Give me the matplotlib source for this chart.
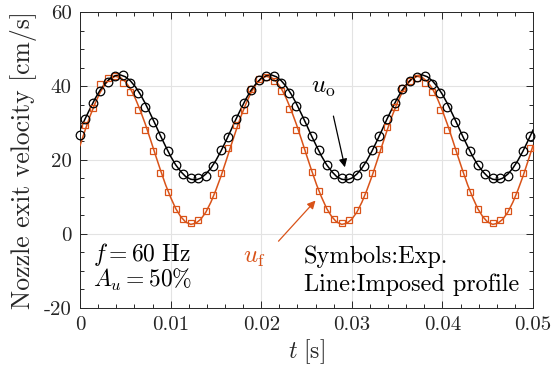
import numpy as np
import matplotlib
matplotlib.use("Agg")
import matplotlib.pyplot as plt
from matplotlib.ticker import MultipleLocator, FuncFormatter

matplotlib.rcParams['font.family'] = 'cmr10'
matplotlib.rcParams['mathtext.fontset'] = 'cm'
matplotlib.rcParams['axes.unicode_minus'] = False
matplotlib.rcParams['axes.formatter.use_mathtext'] = True

orange = '#D95319'
gray = '#262626'

# imposed profiles (lines), sampled every 1/1800 s from 0 to 0.05 s
t_line = np.linspace(0, 0.05, 91)
uo_line = [28.1, 31.1, 33.9, 36.6, 38.9, 40.7, 42.1, 42.8, 43.0, 42.5,
           41.4, 39.8, 37.7, 35.2, 32.4, 29.5, 26.5, 23.7, 21.0, 18.7,
           16.9, 15.5, 14.8, 14.6, 15.1, 16.2, 17.8, 19.9, 22.4, 25.2,
           28.1, 31.1, 33.9, 36.6, 38.9, 40.7, 42.1, 42.8, 43.0, 42.5,
           41.4, 39.8, 37.7, 35.2, 32.4, 29.5, 26.5, 23.7, 21.0, 18.7,
           16.9, 15.5, 14.8, 14.6, 15.1, 16.2, 17.8, 19.9, 22.4, 25.2,
           28.1, 31.1, 33.9, 36.6, 38.9, 40.7, 42.1, 42.8, 43.0, 42.5,
           41.4, 39.8, 37.7, 35.2, 32.4, 29.5, 26.5, 23.7, 21.0, 18.7,
           16.9, 15.5, 14.8, 14.6, 15.1, 16.2, 17.8, 19.9, 22.4, 25.2,
           28.1]
uf_line = [23.9, 28.0, 31.9, 35.3, 38.3, 40.5, 42.0, 42.6, 42.3, 41.2,
           39.3, 36.6, 33.3, 29.6, 25.5, 21.3, 17.2, 13.3, 9.9, 6.9,
           4.7, 3.2, 2.6, 2.9, 4.0, 5.9, 8.6, 11.9, 15.6, 19.7,
           23.9, 28.0, 31.9, 35.3, 38.3, 40.5, 42.0, 42.6, 42.3, 41.2,
           39.3, 36.6, 33.3, 29.6, 25.5, 21.3, 17.2, 13.3, 9.9, 6.9,
           4.7, 3.2, 2.6, 2.9, 4.0, 5.9, 8.6, 11.9, 15.6, 19.7,
           23.9, 28.0, 31.9, 35.3, 38.3, 40.5, 42.0, 42.6, 42.3, 41.2,
           39.3, 36.6, 33.3, 29.6, 25.5, 21.3, 17.2, 13.3, 9.9, 6.9,
           4.7, 3.2, 2.6, 2.9, 4.0, 5.9, 8.6, 11.9, 15.6, 19.7,
           23.9]

# experimental points, sampled at 1200 Hz
t_exp = np.round(0.00055 + np.arange(60) / 1200.0, 5)
t_exp_o = np.concatenate([[0.0], t_exp])
uo_exp = [26.8,
          31.0, 35.3, 38.6, 41.2, 42.6, 42.9, 40.9, 38.0, 34.4, 30.4,
          26.5, 22.5, 18.6, 16.2, 15.0, 15.0, 15.8, 18.4, 22.6, 26.3,
          31.0, 35.3, 38.9, 41.6, 42.7, 42.7, 40.7, 38.0, 34.5, 30.5,
          26.6, 22.6, 18.7, 16.1, 15.0, 15.1, 15.9, 18.5, 22.7, 26.6,
          31.0, 35.5, 39.1, 41.4, 42.5, 42.7, 40.5, 38.0, 34.4, 30.4,
          26.5, 22.5, 18.6, 16.2, 15.0, 15.0, 15.7, 18.4, 22.5, 26.5]
uf_exp = [29.5, 34.0, 40.5, 42.1, 42.7, 40.9, 38.5, 33.5, 28.1, 22.5,
          16.6, 11.4, 6.7, 4.0, 3.1, 3.8, 6.3, 10.5, 16.6, 23.2,
          29.5, 33.5, 39.1, 41.9, 42.3, 41.3, 38.7, 33.7, 28.2, 22.6,
          16.7, 11.5, 6.8, 4.0, 3.0, 3.8, 6.4, 10.6, 16.6, 23.0,
          29.0, 34.4, 39.4, 41.4, 42.1, 40.9, 38.5, 33.5, 28.1, 22.5,
          16.6, 11.4, 6.7, 4.0, 3.1, 3.8, 6.3, 10.5, 16.4, 23.2]

fig = plt.figure(figsize=(5.53, 3.74), dpi=100)
ax = fig.add_axes([0.1447, 0.1765, 0.8192, 0.7914])

ax.plot(t_line, uf_line, color=orange, lw=1.1, zorder=3)
ax.plot(t_line, uo_line, color='k', lw=1.1, zorder=3)
ax.plot(t_exp, uf_exp, ls='none', marker='s', ms=4.8, mfc='none', mec=orange,
        mew=0.9, zorder=4, clip_on=False)
ax.plot(t_exp_o, uo_exp, ls='none', marker='o', ms=6.2, mfc='none', mec='k',
        mew=0.9, zorder=4, clip_on=False)

ax.set_xlim(0, 0.05)
ax.set_ylim(-20, 60)
ax.xaxis.set_major_locator(MultipleLocator(0.01))
ax.xaxis.set_minor_locator(MultipleLocator(0.002))
ax.yaxis.set_major_locator(MultipleLocator(20))
ax.yaxis.set_minor_locator(MultipleLocator(5))
ax.xaxis.set_major_formatter(FuncFormatter(lambda v, p: '%g' % round(v, 3)))
ax.yaxis.set_major_formatter(FuncFormatter(lambda v, p: '%d' % round(v)))
ax.tick_params(which='both', direction='in', top=True, right=True,
               color=gray, labelcolor=gray, labelsize=15, width=0.7)
ax.tick_params(which='major', length=5, pad=6)
ax.tick_params(which='minor', length=2.8)
ax.grid(True, which='major', color='#e3e3e3', lw=0.8, zorder=0)
ax.set_axisbelow(True)
for s in ax.spines.values():
    s.set_color(gray)
    s.set_linewidth(0.7)

ax.set_xlabel(r'$t\ [\mathrm{s}]$', fontsize=17, color=gray, labelpad=2)
ax.set_ylabel('Nozzle exit velocity [cm/s]', fontsize=18.5, color=gray, labelpad=5)

ax.text(0.0268, 39.5, r'$u_\mathrm{o}$', fontsize=18, ha='center', va='center')
ax.annotate('', xy=(0.0293, 17.3), xytext=(0.0279, 32.6),
            arrowprops=dict(arrowstyle='-|>', color='k', lw=0.9, mutation_scale=12))
ax.text(0.0192, -6.5, r'$u_\mathrm{f}$', fontsize=18, color=orange, ha='center', va='center')
ax.annotate('', xy=(0.0262, 9.6), xytext=(0.0217, -2.5),
            arrowprops=dict(arrowstyle='-|>', color=orange, lw=0.9, mutation_scale=12))

ax.text(0.0014, -5.5, r'$f=60\ \mathrm{Hz}$', fontsize=17, va='center')
ax.text(0.0014, -12.4, r'$A_u=50\%$', fontsize=17, va='center')
ax.text(0.0247, -6.1, 'Symbols:Exp.', fontsize=17.5, va='center')
ax.text(0.0247, -13.8, 'Line:Imposed profile', fontsize=17.5, va='center')

fig.savefig('out.png', dpi=100)
